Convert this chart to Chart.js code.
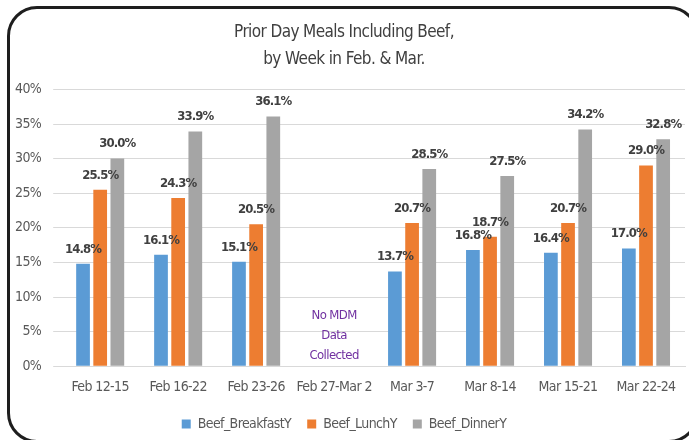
<!DOCTYPE html>
<html lang="en">
<head>
  <meta charset="UTF-8" />
  <title>Prior Day Meals Including Beef</title>
  <script src="https://cdn.jsdelivr.net/npm/chart.js"></script>
  <style>
    html, body { margin: 0; padding: 0; background: #fff; overflow: hidden; }
    .wrap { position: relative; width: 689px; height: 440px; }
    .frame {
      position: absolute;
      left: 7px; top: 6px;
      width: 692px; height: 437px;
      box-sizing: border-box;
      border: 3px solid #1e1e1e;
      border-radius: 30px;
      pointer-events: none;
    }
  </style>
</head>
<body>
  <div class="wrap">
    <canvas id="chart" width="689" height="440"></canvas>
    <div class="frame"></div>
  </div>

  <script>
    const weeks = ["Feb 12-15", "Feb 16-22", "Feb 23-26", "Feb 27-Mar 2", "Mar 3-7", "Mar 8-14", "Mar 15-21", "Mar 22-24"];
    const breakfast = [14.8, 16.1, 15.1, null, 13.7, 16.8, 16.4, 17.0];
    const lunch = [25.5, 24.3, 20.5, null, 20.7, 18.7, 20.7, 29.0];
    const dinner = [30.0, 33.9, 36.1, null, 28.5, 27.5, 34.2, 32.8];
    const yTicks = [0, 5, 10, 15, 20, 25, 30, 35, 40];
    const noDataNote = ["No MDM", "Data", "Collected"];
    const noDataIndex = 3;

    const FONT = "'DejaVu Sans Condensed', 'Liberation Sans', sans-serif";

    // the original uses a narrow font, so squeeze the letters a bit
    const narrowText = {
      id: "narrowText",
      beforeUpdate(chart) { chart.ctx.letterSpacing = "-0.6px"; },
      beforeDraw(chart) { chart.ctx.letterSpacing = "-0.6px"; }
    };

    // bar value labels, drawn above each bar
    const valueLabels = {
      id: "valueLabels",
      afterDatasetsDraw(chart) {
        const ctx = chart.ctx;
        ctx.save();
        ctx.font = "bold 13px " + FONT;
        ctx.letterSpacing = "-0.9px";
        ctx.fillStyle = "#404040";
        ctx.textAlign = "center";
        ctx.textBaseline = "bottom";
        chart.data.datasets.forEach((ds, i) => {
          chart.getDatasetMeta(i).data.forEach((bar, j) => {
            if (ds.data[j] == null) return;
            ctx.fillText(ds.data[j].toFixed(1) + "%", bar.x, bar.y - 8);
          });
        });
        ctx.restore();
      }
    };

    // note for the week without data
    const noDataText = {
      id: "noDataText",
      afterDatasetsDraw(chart) {
        const ctx = chart.ctx;
        const x = chart.scales.x.getPixelForValue(noDataIndex);
        const y0 = chart.scales.y.getPixelForValue(7.3);
        ctx.save();
        ctx.font = "13px " + FONT;
        ctx.letterSpacing = "-0.6px";
        ctx.fillStyle = "#7030A0";
        ctx.textAlign = "center";
        ctx.textBaseline = "middle";
        noDataNote.forEach((line, k) => ctx.fillText(line, x, y0 + k * 20));
        ctx.restore();
      }
    };

    new Chart(document.getElementById("chart"), {
      type: "bar",
      data: {
        labels: weeks,
        datasets: [
          { label: "Beef_BreakfastY", data: breakfast, backgroundColor: "#5B9BD5" },
          { label: "Beef_LunchY", data: lunch, backgroundColor: "#ED7D31" },
          { label: "Beef_DinnerY", data: dinner, backgroundColor: "#A5A5A5" }
        ]
      },
      options: {
        responsive: false,
        animation: false,
        layout: { padding: { left: 3, right: 4, top: 12, bottom: -1 } },
        datasets: { bar: { categoryPercentage: 0.66, barPercentage: 0.8 } },
        plugins: {
          title: {
            display: true,
            text: ["Prior Day Meals Including Beef,", "by Week in Feb. & Mar."],
            color: "#404040",
            font: { family: FONT, size: 17, weight: "normal", lineHeight: 1.6 },
            padding: { top: 7, bottom: 16 }
          },
          legend: {
            position: "bottom",
            labels: {
              color: "#595959",
              font: { family: FONT, size: 14 },
              boxWidth: 9,
              boxHeight: 9,
              padding: 16
            }
          },
          tooltip: { enabled: false }
        },
        scales: {
          x: {
            grid: { display: false },
            border: { color: "#d9d9d9" },
            ticks: { color: "#595959", font: { family: FONT, size: 14 }, maxRotation: 0, autoSkip: false, padding: 5 }
          },
          y: {
            min: 0,
            max: 40,
            afterBuildTicks(axis) { axis.ticks = yTicks.map(v => ({ value: v })); },
            grid: { color: "#d9d9d9" },
            border: { display: false },
            ticks: { color: "#595959", font: { family: FONT, size: 14 }, padding: 12, callback: v => v + "%" }
          }
        }
      },
      plugins: [narrowText, valueLabels, noDataText]
    });
  </script>
</body>
</html>
